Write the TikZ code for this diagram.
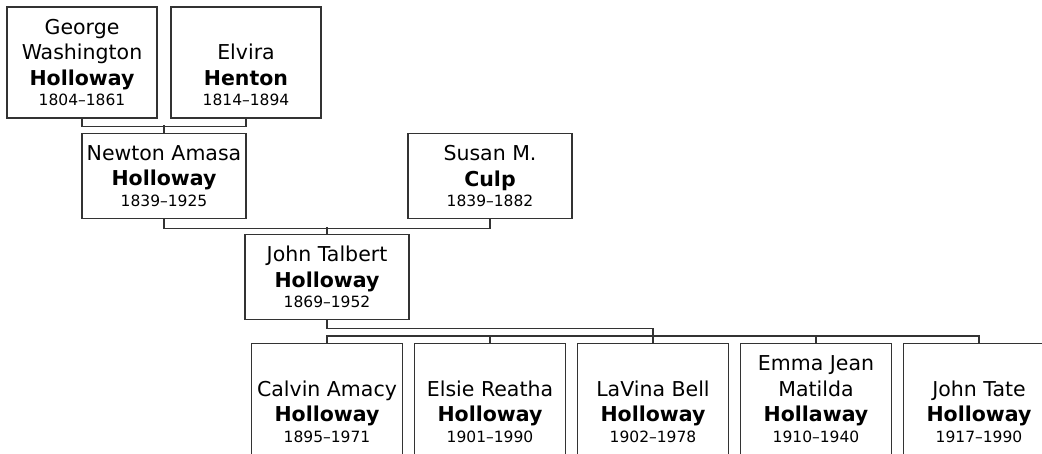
\documentclass[tikz,border=0pt]{standalone}
\usepackage{fontspec}
\setmainfont{DejaVu Sans}
\usepackage{tikz}
\newcommand{\yrs}[1]{\\[-5pt]{\fontsize{15.5}{15.5}\selectfont #1}}
\newcommand{\blankline}{\vphantom{E}\\}

\begin{document}
\begin{tikzpicture}[
    x=1pt, y=-1pt,
    person/.style={draw=black!80, line width=1.2pt, align=center, inner sep=1pt, font=\fontsize{20.5}{25.5}\selectfont},
    elder/.style={person, minimum width=150pt, minimum height=111pt},
    middle/.style={person, minimum width=164pt, minimum height=85pt},
    child/.style={person, minimum width=151pt, minimum height=111pt},
    link/.style={draw=black!80, line width=1.2pt}
]
\useasboundingbox (0,0) rectangle (1042,453);
\clip (0,0) rectangle (1042,453);

\node[elder] (gw) at (82,62.5) {George\\Washington\\\textbf{Holloway}\yrs{1804--1861}};
\node[elder] (elvira) at (246,62.5) {\blankline Elvira\\\textbf{Henton}\yrs{1814--1894}};

\node[middle] (newton) at (164,176) {Newton Amasa\\\textbf{Holloway}\yrs{1839--1925}};
\node[middle] (susan) at (490,176) {Susan M.\\\textbf{Culp}\yrs{1839--1882}};

\node[middle] (john) at (327,277) {John Talbert\\\textbf{Holloway}\yrs{1869--1952}};

\node[child] (calvin) at (327,399) {\blankline Calvin Amacy\\\textbf{Holloway}\yrs{1895--1971}};
\node[child] (elsie) at (490,399) {\blankline Elsie Reatha\\\textbf{Holloway}\yrs{1901--1990}};
\node[child] (lavina) at (653,399) {\blankline LaVina Bell\\\textbf{Holloway}\yrs{1902--1978}};
\node[child] (emma) at (816,399) {Emma Jean\\Matilda\\\textbf{Hollaway}\yrs{1910--1940}};
\node[child] (johntate) at (979,399) {\blankline John Tate\\\textbf{Holloway}\yrs{1917--1990}};

\draw[link] (gw.south) -- ++(0,8) -| (elvira.south);
\draw[link] (newton.north) -- ++(0,-8);
\draw[link] (newton.south) -- ++(0,9) -| (susan.south);
\draw[link] (john.north) -- ++(0,-7);
\draw[link] (john.south) -- ++(0,8) -| ([yshift=7pt]lavina.north);
\draw[link] (calvin.north) -- ++(0,-7) -| (johntate.north);
\draw[link] (elsie.north) -- ++(0,-7);
\draw[link] (lavina.north) -- ++(0,-7);
\draw[link] (emma.north) -- ++(0,-7);
\end{tikzpicture}
\end{document}
